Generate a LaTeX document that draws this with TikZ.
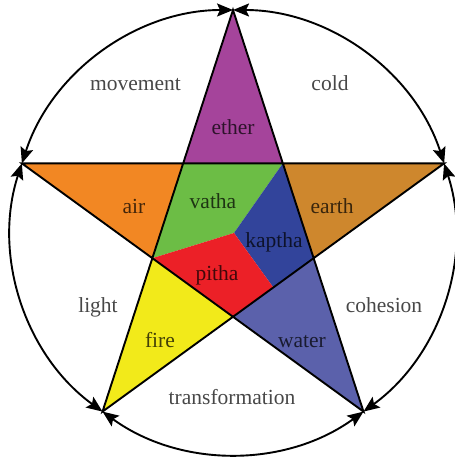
\documentclass[tikz,border=0pt]{standalone}
\usepackage{fontspec}
\setmainfont{Liberation Serif}
\usetikzlibrary{arrows.meta,calc}
\definecolor{cether}{RGB}{165,68,155}
\definecolor{cair}{RGB}{242,135,35}
\definecolor{cearth}{RGB}{206,135,45}
\definecolor{cvatha}{RGB}{108,189,69}
\definecolor{ckaptha}{RGB}{50,68,155}
\definecolor{cpitha}{RGB}{236,32,39}
\definecolor{cfire}{RGB}{242,234,26}
\definecolor{cwater}{RGB}{91,97,171}
\begin{document}
\begin{tikzpicture}[x={(1bp,0)}, y={(0,-1bp)},
  lbl/.style={anchor=base, text=black, text opacity=0.72, inner sep=0pt, font=\fontsize{21.5bp}{24bp}\selectfont},
  ring/.style={line width=1.9bp, {Stealth[length=16bp,width=13bp,inset=3bp]}-{Stealth[length=16bp,width=13bp,inset=3bp]}},
  starline/.style={line width=1.9bp, line join=miter, miter limit=10}]
\useasboundingbox (0,0) rectangle (455,462);
% outer vertices
\coordinate (T) at (233,10);
\coordinate (R) at (444.1,163.4);
\coordinate (BR) at (363.5,411.6);
\coordinate (BL) at (102.5,411.6);
\coordinate (L) at (21.9,163.4);
% inner vertices
\coordinate (iB) at (233,316.8);
\coordinate (iR) at (313.6,258.2);
\coordinate (iL) at (152.4,258.2);
\coordinate (iTR) at (282.8,163.4);
\coordinate (iTL) at (183.2,163.4);
\coordinate (C) at (234,233);
\coordinate (P) at ($(iR)!0.5!(iB)$);
% regions
\fill[cether] (T) -- (iTR) -- (iTL) -- cycle;
\fill[cearth] (R) -- (iR) -- (iTR) -- cycle;
\fill[cwater] (BR) -- (iB) -- (iR) -- cycle;
\fill[cfire] (BL) -- (iL) -- (iB) -- cycle;
\fill[cair] (L) -- (iTL) -- (iL) -- cycle;
\fill[cvatha] (iTL) -- (iTR) -- (C) -- (iL) -- cycle;
\fill[ckaptha] (iTR) -- (iR) -- (P) -- (C) -- cycle;
\fill[cpitha] (C) -- (P) -- (iB) -- (iL) -- cycle;
% star outline
\draw[starline] (T) -- (BL) -- (R) -- (L) -- (BR) -- cycle;
% ring arcs
\draw[ring] (T) arc[start angle=-90, end angle=-18, radius=222];
\draw[ring] (R) arc[start angle=-18, end angle=54, radius=222];
\draw[ring] (BR) arc[start angle=54, end angle=126, radius=222];
\draw[ring] (BL) arc[start angle=126, end angle=198, radius=222];
\draw[ring] (L) arc[start angle=198, end angle=270, radius=222];
% labels
\node[lbl] (movement) at (135.5,91) {movement};
\node[lbl] (cold) at (330,91) {cold};
\node[lbl] (ether) at (233,135) {ether};
\node[lbl] (air) at (134,214) {air};
\node[lbl] (vatha) at (213,209) {vatha};
\node[lbl] (earth) at (332,214) {earth};
\node[lbl] (kaptha) at (274,247) {kaptha};
\node[lbl] (pitha) at (217,280) {pitha};
\node[lbl] (light) at (98,312) {light};
\node[lbl] (cohesion) at (384,312) {cohesion};
\node[lbl] (fire) at (160,347) {fire};
\node[lbl] (water) at (302,347) {water};
\node[lbl] (transformation) at (232,404) {transformation};
\end{tikzpicture}
\end{document}
